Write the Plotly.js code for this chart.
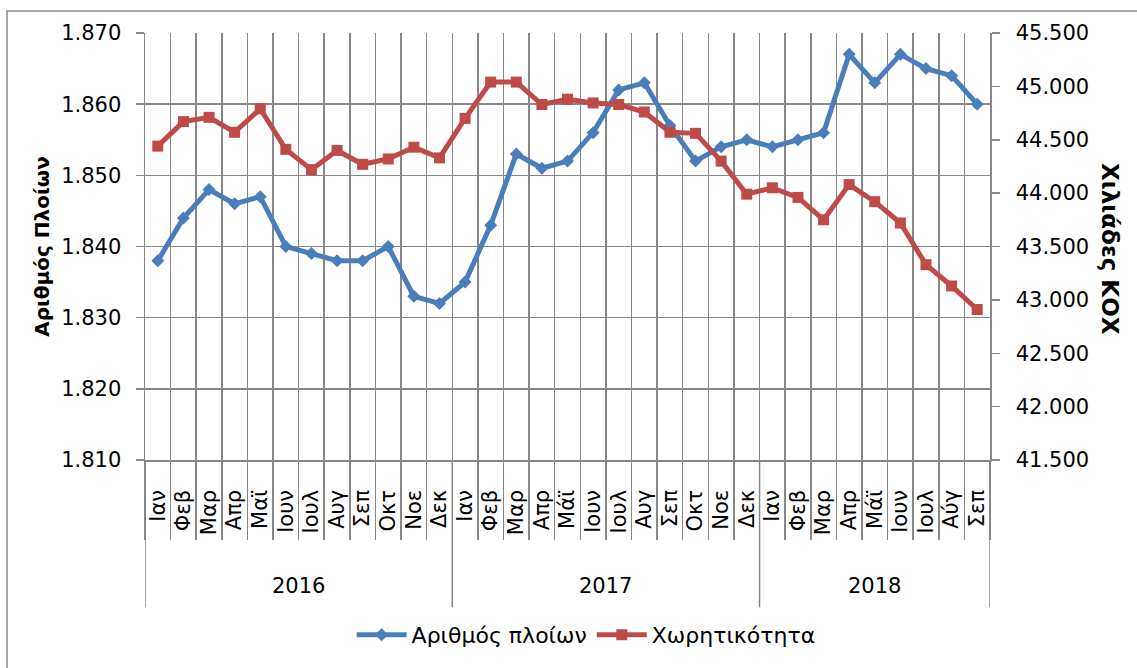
<!DOCTYPE html>
<html>
<head>
<meta charset="utf-8">
<script src="https://cdn.plot.ly/plotly-3.0.1.min.js"></script>
<style>html,body{margin:0;padding:0;background:#fff;}#chart{width:1137px;height:668px;}</style>
</head>
<body>
<div id="chart"></div>
<script>
var years = ['2016','2016','2016','2016','2016','2016','2016','2016','2016','2016','2016','2016',
             '2017','2017','2017','2017','2017','2017','2017','2017','2017','2017','2017','2017',
             '2018','2018','2018','2018','2018','2018','2018','2018','2018'];
var months = ['Ιαν','Φεβ','Μαρ','Απρ','Μαϊ','Ιουν','Ιουλ','Αυγ','Σεπ','Οκτ','Νοε','Δεκ',
              'Ιαν','Φεβ','Μαρ','Απρ','Μάϊ','Ιουν','Ιουλ','Αυγ','Σεπ','Οκτ','Νοε','Δεκ',
              'Ιαν','Φεβ','Μαρ','Απρ','Μάϊ','Ιουν','Ιουλ','Αύγ','Σεπ'];
var vessels = [1838,1844,1848,1846,1847,1840,1839,1838,1838,1840,1833,1832,
               1835,1843,1853,1851,1852,1856,1862,1863,1857,1852,1854,1855,
               1854,1855,1856,1867,1863,1867,1865,1864,1860];
var capacity = [44440,44670,44710,44570,44790,44410,44220,44400,44270,44320,44430,44330,
                44700,45040,45040,44830,44880,44845,44830,44760,44570,44560,44300,43990,
                44050,43960,43750,44080,43920,43720,43330,43130,42910];
var leftTitle = 'Αριθμός Πλοίων';
var rightTitle = 'Χιλιάδες ΚΟΧ';
var names = ['Αριθμός πλοίων', 'Χωρητικότητα'];

var FONT = 'DejaVu Sans';
var GRID = '#878787';

// category index positions
var idx = months.map(function(m, i){ return i; });
var bounds = [];
for (var i = 0; i <= months.length; i++) bounds.push(i - 0.5);

// year groups
var groups = [];
years.forEach(function(y, i){
  var g = groups.length ? groups[groups.length-1] : null;
  if (!g || g.year !== y) groups.push({year:y, start:i, end:i});
  else g.end = i;
});

var traces = [
  {x:idx, y:vessels, name:names[0], type:'scatter', mode:'lines+markers',
   line:{color:'#4A7EBB', width:5}, marker:{symbol:'diamond', size:10, color:'#4A7EBB'}, yaxis:'y'},
  {x:idx, y:capacity, name:names[1], type:'scatter', mode:'lines+markers',
   line:{color:'#BE4B48', width:5}, marker:{symbol:'square', size:11, color:'#BE4B48'}, yaxis:'y2'}
];

var annotations = groups.map(function(g){
  return {text:g.year, xref:'x', yref:'paper', x:(g.start+g.end)/2, y:-0.295,
          showarrow:false, xanchor:'center', yanchor:'middle', font:{family:FONT, size:21}};
});
annotations.push({text:rightTitle, xref:'paper', yref:'paper', x:1.142, y:0.494, textangle:90,
  showarrow:false, font:{family:FONT, size:23, weight:'bold'}, xanchor:'center', yanchor:'middle'});

var shapes = [
  {type:'rect', xref:'paper', yref:'paper', x0:-0.1633, x1:1.6, y0:1.0513, y1:-1,
   line:{color:'#8a8a8a', width:1.5}, fillcolor:'rgba(0,0,0,0)', layer:'below'}
];
groups.forEach(function(g, k){
  shapes.push({type:'line', xref:'x', yref:'paper', x0:g.start-0.5, x1:g.start-0.5, y0:0, y1:-0.345,
               line:{color:GRID, width:1.5}});
  if (k === groups.length-1)
    shapes.push({type:'line', xref:'x', yref:'paper', x0:g.end+0.5, x1:g.end+0.5, y0:0, y1:-0.345,
                 line:{color:GRID, width:1.5}});
});

var layout = {
  width:1137, height:668,
  margin:{l:145, r:147, t:33, b:206},
  paper_bgcolor:'#fff', plot_bgcolor:'#fff',
  separators:',.',
  font:{family:FONT, size:19, color:'#000'},
  showlegend:true,
  legend:{orientation:'h', x:0.522, xanchor:'center', y:-0.41, yanchor:'middle',
          font:{family:FONT, size:22}, itemwidth:50},
  xaxis:{range:[-0.5, months.length-0.5], tickmode:'array', tickvals:idx, ticktext:months,
         tickangle:-90, showgrid:false, zeroline:false,
         showline:true, linecolor:GRID, linewidth:1.5, ticks:'',
         tickfont:{family:FONT, size:21}, ticklabelstandoff:20,
         minor:{tickmode:'array', tickvals:bounds, showgrid:true, gridcolor:GRID, gridwidth:1.5,
                ticks:'outside', ticklen:78, tickcolor:GRID, tickwidth:1.5}},
  yaxis:{range:[1810,1870], dtick:10, tickformat:',d', showgrid:true, gridcolor:GRID, gridwidth:1.5,
         showline:true, linecolor:GRID, linewidth:1.5, ticks:'outside', ticklen:8, tickcolor:GRID,
         tickwidth:1.5, zeroline:false, tickfont:{family:FONT, size:21}, ticklabelstandoff:10,
         title:{text:leftTitle, font:{family:FONT, size:20, weight:'bold'}, standoff:6}},
  yaxis2:{range:[41500,45500], dtick:500, tickformat:',d', overlaying:'y', side:'right',
          showgrid:false, showline:true, linecolor:GRID, linewidth:1.5, ticks:'outside', ticklen:8,
          tickwidth:1.5, tickcolor:GRID, zeroline:false, tickfont:{family:FONT, size:21},
          ticklabelstandoff:12},
  annotations:annotations,
  shapes:shapes
};

Plotly.newPlot('chart', traces, layout, {displayModeBar:false, staticPlot:true});
</script>
</body>
</html>
